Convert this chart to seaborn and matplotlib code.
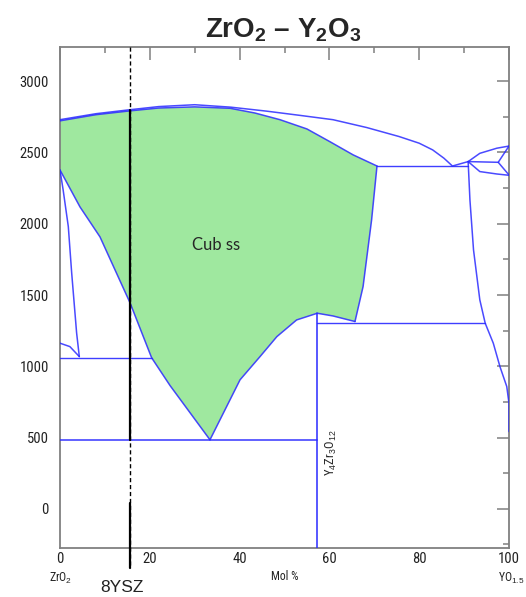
import matplotlib
matplotlib.use("Agg")
import matplotlib.pyplot as plt
from matplotlib import font_manager
from matplotlib.ticker import MultipleLocator
import seaborn as sns

# ---- phase boundaries (x: mol % YO1.5, T: °C) ----
liquidus_x = [0, 8, 15.6, 22, 30, 38, 46, 53.5, 60.8, 68.3, 75.5, 80, 83, 85.5, 87.4, 90.9]
liquidus_T = [2730, 2772, 2800, 2822, 2835, 2818, 2790, 2760, 2730, 2675, 2612, 2565, 2518, 2460, 2405, 2436]

solidus_x = [0, 8, 15.6, 22, 30, 37.9, 43.4, 49, 55, 60.1, 65.3, 70.6]
solidus_T = [2722, 2765, 2792, 2812, 2820, 2810, 2777, 2730, 2665, 2576, 2483, 2405]

cub_right_x = [70.6, 69.4, 67.5, 65.7]
cub_right_T = [2405, 2027, 1559, 1314]

cub_bottom_x = [65.7, 60.8, 57.3, 52.7, 48.3, 44.5, 40.1, 33.4]
cub_bottom_T = [1314, 1353, 1372, 1325, 1208, 1066, 905, 484]

cub_left_x = [33.4, 24.5, 20.4, 15.6, 8.9, 4.45, 0]
cub_left_T = [484, 865, 1060, 1445, 1908, 2118, 2377]

tet_x = [0, 0.7, 1.85, 2.6, 3.7, 4.3]
tet_T = [2377, 2237, 1980, 1655, 1234, 1068]

mono_x = [0, 2.2, 4.3]
mono_T = [1162, 1138, 1068]

yss_x = [90.9, 91.3, 92.1, 93.5, 94.7, 96.5, 98.0, 99.5, 100, 100]
yss_T = [2436, 2167, 1816, 1466, 1302, 1162, 996, 858, 740, 542]

hex_upper_x = [90.9, 93.5, 97.3, 100]
hex_upper_T = [2436, 2494, 2530, 2545]
hex_mid_x = [90.9, 97.6, 100]
hex_mid_T = [2436, 2431, 2545]
hex_mid2_x = [97.6, 100]
hex_mid2_T = [2431, 2342]
hex_lower_x = [90.9, 93.5, 97.3, 100]
hex_lower_T = [2436, 2366, 2349, 2340]

# isotherms: (x_start, x_end, T)
isotherms = [(0, 20.4, 1060), (0, 57.3, 484), (57.3, 94.7, 1302), (70.6, 90.9, 2405)]

# line compound Y4Zr3O12
compound_x = 57.3
compound_T = [-275, 1372]

ysz_x = 15.6
x_ticks = [0, 20, 40, 60, 80, 100]
y_ticks = [0, 500, 1000, 1500, 2000, 2500, 3000]

BLUE = "#2a2aff"
GREEN = "#9fe89f"
GREY = "#808080"

sns.set_style("white")
avail = {f.name for f in font_manager.fontManager.ttflist}


def pick(*names):
    for n in names:
        if n in avail:
            return n
    return "DejaVu Sans"


sans = pick("Liberation Sans", "Arimo", "Roboto", "Noto Sans")
narrow = pick("Liberation Sans Narrow", "Roboto Condensed")
narrow_ok = narrow != "DejaVu Sans"
if not narrow_ok:
    narrow = sans
tick_size = 10.5 if narrow_ok else 9
small_size = 8.5 if narrow_ok else 7.5

plt.rcParams["font.family"] = [sans, "DejaVu Sans"]
plt.rcParams["mathtext.fontset"] = "custom"
plt.rcParams["mathtext.rm"] = sans
plt.rcParams["mathtext.it"] = sans + ":italic"
plt.rcParams["mathtext.bf"] = sans + ":bold"

fig = plt.figure(figsize=(5.26, 5.97), dpi=100)
ax = fig.add_axes([60 / 526, 49 / 597, 449 / 526, 501 / 597])

# cubic solid-solution field
poly_x = solidus_x + cub_right_x[1:] + cub_bottom_x[1:] + cub_left_x[1:]
poly_T = solidus_T + cub_right_T[1:] + cub_bottom_T[1:] + cub_left_T[1:]
ax.fill(poly_x, poly_T, color=GREEN, lw=0, zorder=1)

curves = [
    (liquidus_x, liquidus_T), (solidus_x, solidus_T), (cub_right_x, cub_right_T),
    (cub_bottom_x, cub_bottom_T), (cub_left_x, cub_left_T), (tet_x, tet_T),
    (mono_x, mono_T), (yss_x, yss_T), (hex_upper_x, hex_upper_T),
    (hex_mid_x, hex_mid_T), (hex_mid2_x, hex_mid2_T), (hex_lower_x, hex_lower_T),
]
for cx, cT in curves:
    sns.lineplot(x=cx, y=cT, sort=False, estimator=None, color=BLUE, lw=1.1,
                 alpha=0.85, ax=ax, zorder=3)

for x0, x1, T in isotherms:
    sns.lineplot(x=[x0, x1], y=[T, T], sort=False, estimator=None, color=BLUE,
                 lw=1.3 if T < 500 else 1.0, alpha=0.8 if T < 500 else 0.9, ax=ax, zorder=3)
sns.lineplot(x=[compound_x, compound_x], y=compound_T, sort=False, estimator=None,
             color=BLUE, lw=1.1, ax=ax, zorder=3)

ax.set_xlim(0, 100)
ax.set_ylim(-275, 3240)

# 8YSZ composition marker
ax.plot([ysz_x - 0.1, ysz_x - 0.1], [3240, -414], color="black", lw=1.0,
        ls=(0, (3, 2)), clip_on=False, zorder=5)
ax.plot([ysz_x + 0.1, ysz_x + 0.1], [2800, 484], color="black", lw=1.6,
        clip_on=False, zorder=5)
ax.plot([ysz_x + 0.1, ysz_x + 0.1], [40, -414], color="black", lw=1.6,
        clip_on=False, zorder=5)

# axes styling
ax.set_xticks(x_ticks)
ax.set_yticks(y_ticks)
ax.xaxis.set_minor_locator(MultipleLocator(10))
ax.yaxis.set_minor_locator(MultipleLocator(250))
ax.tick_params(which="both", direction="in", top=True, right=True, color=GREY, width=1.1,
               labelsize=tick_size, labelcolor="#222222")
ax.tick_params(which="major", length=9)
ax.tick_params(which="minor", length=4.5)
ax.tick_params(axis="y", pad=8)
ax.tick_params(axis="x", pad=3)
for lab in ax.get_xticklabels() + ax.get_yticklabels():
    lab.set_fontfamily(narrow)
for sp in ax.spines.values():
    sp.set_color(GREY)
    sp.set_linewidth(1.3)
ax.set_xlabel("")
ax.set_ylabel("")

# annotations
ax.text(34.7, 1851, "Cub ss", fontsize=12, family=[pick("Lato", sans), "DejaVu Sans"],
        ha="center", va="center", zorder=6)
ax.text(60.4, 393, "Y$_4$Zr$_3$O$_{12}$", fontsize=small_size + 0.5, rotation=90,
        ha="center", va="center", family=narrow, zorder=6)

fig.text(283 / 526, 1 - 30 / 597, r"ZrO$_\mathbf{2}$ – Y$_\mathbf{2}$O$_\mathbf{3}$",
         fontsize=20, fontweight="bold", ha="center", va="center")
fig.text(61 / 526, 1 - 578 / 597, "ZrO$_2$", fontsize=small_size, family=narrow,
         ha="center", va="center", color="#222222")
fig.text(498 / 526, 1 - 578 / 597, "YO$_{1.5}$", fontsize=small_size, family=narrow,
         ha="left", va="center", color="#222222")
fig.text(285 / 526, 1 - 577 / 597, "Mol %", fontsize=small_size, family=narrow,
         ha="center", va="center", color="#222222")
fig.text(122 / 526, 1 - 587 / 597, "8YSZ", fontsize=12.5, ha="center", va="center",
         color="#222222")

fig.savefig("out.png", dpi=100)
